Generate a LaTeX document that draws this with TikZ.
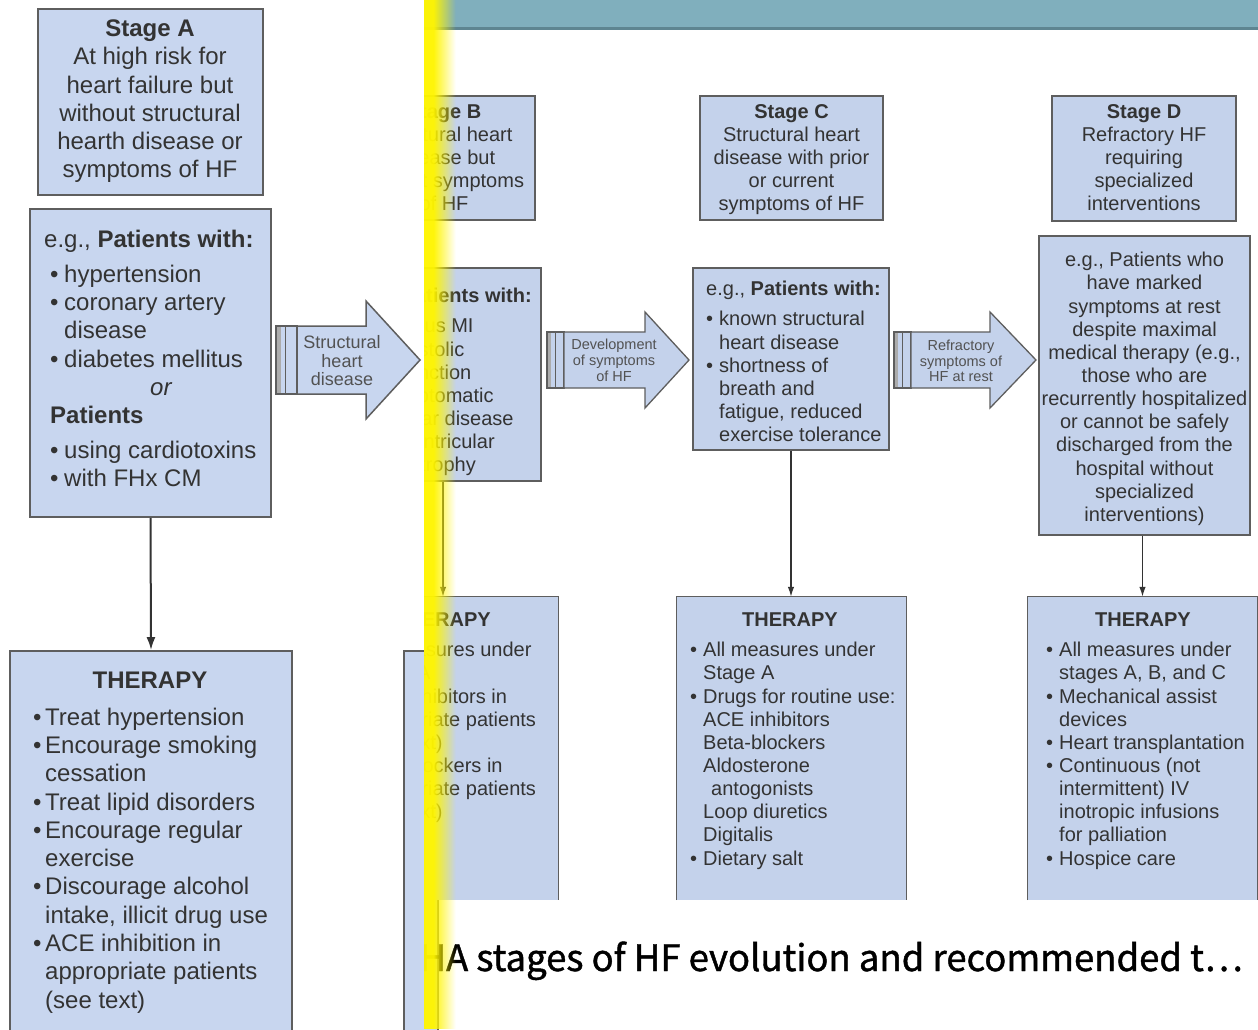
\documentclass[tikz,border=0pt]{standalone}
\usepackage{fontspec}
\setmainfont{Liberation Sans}
\newfontfamily\capfont{Noto Sans CJK SC}[FakeBold=1.2]
\usetikzlibrary{arrows.meta}
\definecolor{boxfill}{HTML}{C8D6EF}
\definecolor{boxfillS}{HTML}{C4D2EB}
\definecolor{boxline}{HTML}{5E5E5E}
\definecolor{txt}{HTML}{333333}
\definecolor{barcol}{HTML}{80AFBD}
\definecolor{bardark}{HTML}{5E8591}
\definecolor{hl}{HTML}{FFF500}
\newcommand{\blz}{\makebox[14pt][l]{•}}
\newcommand{\blt}{\makebox[12pt][l]{•}}
\newcommand{\bls}{\makebox[13pt][l]{•}}
\begin{document}
\begin{tikzpicture}[x=1pt,y=-1pt,
  zbox/.style={draw=boxline, line width=1.8pt, fill=boxfill, inner sep=0pt},
  sbox/.style={draw=boxline, line width=1.3pt, fill=boxfillS, inner sep=0pt},
  sfill/.style={fill=boxfillS, inner sep=0pt},
  openline/.style={draw=boxline, line width=1.3pt},
  ztext/.style={text=txt, inner sep=0pt, font=\fontsize{24}{28.3}\selectfont},
  stext/.style={text=txt, inner sep=0pt, font=\fontsize{20}{23.15}\selectfont},
  zarr/.style={draw=txt, line width=2pt, -{Latex[length=13pt,width=9pt]}},
  sarr/.style={draw=txt, line width=1.4pt, -{Latex[length=10pt,width=6.5pt]}},
  bigarr/.style={draw=boxline, line width=1.3pt, line join=miter},
]
\useasboundingbox (0,0) rectangle (1258,1029);
\fill[white] (0,0) rectangle (1258,1029);

% ---------- zoomed Stage A column ----------
\node[zbox, minimum width=225pt, minimum height=186pt] (sA) at (150.5,102) {};
\node[ztext, align=center, anchor=north] (tA) at (150,19.5)
  {\textbf{Stage A}\\At high risk for\\heart failure but\\without structural\\hearth disease or\\symptoms of HF};

\node[zbox, minimum width=241pt, minimum height=308pt] (pA) at (150.5,363) {};
\node[ztext, align=left, anchor=north west] (tpA) at (44,229.5)
  {e.g., \textbf{Patients with:}\\[6.7pt]
   \hspace*{6pt}\blz hypertension\\
   \hspace*{6pt}\blz coronary artery\\
   \hspace*{20pt}disease\\
   \hspace*{6pt}\blz diabetes mellitus\\
   \hspace*{106pt}\textit{or}\\
   \hspace*{6pt}\textbf{Patients}\\[6.5pt]
   \hspace*{6pt}\blz using cardiotoxins\\
   \hspace*{6pt}\blz with FHx CM};

\node[zbox, minimum width=282pt, minimum height=394pt] (thA) at (151,848) {};
\node[ztext, font=\fontsize{24}{28.3}\selectfont\bfseries] (ttA) at (150,680) {THERAPY};
\node[ztext, align=left, anchor=north west] (ltA) at (33,707.5)
  {\blt Treat hypertension\\
   \blt Encourage smoking\\
   \hspace*{12pt}cessation\\
   \blt Treat lipid disorders\\
   \blt Encourage regular\\
   \hspace*{12pt}exercise\\
   \blt Discourage alcohol\\
   \hspace*{12pt}intake, illicit drug use\\
   \blt ACE inhibition in\\
   \hspace*{12pt}appropriate patients\\
   \hspace*{12pt}(see text)};

\draw[zarr] (pA.south) -- (thA.north);

% zoomed big arrow
\fill[boxfill] (276,326) rectangle (297,394);
\fill[gray!65] (276,326) rectangle (280.5,394);
\draw[boxline, line width=1.3pt] (276,326) rectangle (297,394);
\draw[boxline, line width=1pt] (285.5,326) -- (285.5,394);
\draw[bigarr, line width=1.5pt, fill=boxfill] (297,326) -- (366,326) -- (366,301) -- (420,360) -- (366,419) -- (366,394) -- (297,394) -- cycle;
\node[text=txt!85!white, inner sep=0pt, align=center, font=\fontsize{18}{18.5}\selectfont] (lAB) at (342,361) {Structural\\heart\\disease};

% piece of the slide's Stage A therapy box
\node[sbox, fill=boxfill, minimum width=34pt, minimum height=394pt] (pc) at (421,848) {};

% ---------- slide part ----------
\begin{scope}
\clip (424,0) rectangle (1258,1029);
\fill[barcol] (424,0) rectangle (1258,27);
\fill[bardark] (424,27) rectangle (1258,30);

% headers
\node[sbox, minimum width=182pt, minimum height=124pt] (sB) at (444,158) {};
\node[stext, align=center, anchor=north] (tB) at (444,104)
  {\textbf{Stage B}\\Structural heart\\disease but\\without symptoms\\of HF};
\node[sbox, minimum width=183pt, minimum height=124pt] (sC) at (791.5,158) {};
\node[stext, align=center, anchor=north] (tC) at (791.5,104)
  {\textbf{Stage C}\\Structural heart\\disease with prior\\or current\\symptoms of HF};
\node[sbox, minimum width=184pt, minimum height=125pt] (sD) at (1144,158.5) {};
\node[stext, align=center, anchor=north] (tD) at (1144,104)
  {\textbf{Stage D}\\Refractory HF\\requiring\\specialized\\interventions};

% patients boxes
\node[sbox, minimum width=196pt, minimum height=213pt] (pB) at (443,374.5) {};
\node[stext, align=left, anchor=north west] (tpB) at (357,288)
  {e.g., \textbf{Patients with:}\\[7pt]
   \bls previous MI\\
   \bls LV systolic\\
   \hspace*{13pt}dysfunction\\
   \bls asymptomatic\\
   \hspace*{13pt}valvular disease\\
   \bls left ventricular\\
   \hspace*{13pt}hypertrophy};
\node[sbox, minimum width=196pt, minimum height=182pt] (pC) at (791,359) {};
\node[stext, align=left, anchor=north west] (tpC) at (706,281)
  {e.g., \textbf{Patients with:}\\[7pt]
   \bls known structural\\
   \hspace*{13pt}heart disease\\
   \bls shortness of\\
   \hspace*{13pt}breath and\\
   \hspace*{13pt}fatigue, reduced\\
   \hspace*{13pt}exercise tolerance};
\node[sbox, minimum width=211pt, minimum height=299pt] (pD) at (1144.5,385.5) {};
\node[stext, align=center, anchor=north] (tpD) at (1144.5,252)
  {e.g., Patients who\\have marked\\symptoms at rest\\despite maximal\\medical therapy (e.g.,\\those who are\\recurrently hospitalized\\or cannot be safely\\discharged from the\\hospital without\\specialized\\interventions)};

% therapy boxes (open at the bottom)
\node[sfill, minimum width=229pt, minimum height=303pt] (thB) at (443.5,748.5) {};
\draw[openline] (thB.south west) -- (thB.north west) -- (thB.north east) -- (thB.south east);
\node[stext, font=\fontsize{20}{23.15}\selectfont\bfseries] (ttB) at (443,620) {THERAPY};
\node[stext, align=left, anchor=north west] (ltB) at (346,642)
  {\bls All measures under\\
   \hspace*{13pt}Stage A\\
   \bls ACE inhibitors in\\
   \hspace*{13pt}appropriate patients\\
   \hspace*{13pt}(see text)\\
   \bls Beta-blockers in\\
   \hspace*{13pt}appropriate patients\\
   \hspace*{13pt}(see text)};

\node[sfill, minimum width=229pt, minimum height=303pt] (thC) at (791.5,748.5) {};
\draw[openline] (thC.south west) -- (thC.north west) -- (thC.north east) -- (thC.south east);
\node[stext, font=\fontsize{20}{23.15}\selectfont\bfseries] (ttC) at (790,620) {THERAPY};
\node[stext, align=left, anchor=north west] (ltC) at (690,642)
  {\bls All measures under\\
   \hspace*{13pt}Stage A\\
   \bls Drugs for routine use:\\
   \hspace*{13pt}ACE inhibitors\\
   \hspace*{13pt}Beta-blockers\\
   \hspace*{13pt}Aldosterone\\
   \hspace*{21pt}antogonists\\
   \hspace*{13pt}Loop diuretics\\
   \hspace*{13pt}Digitalis\\
   \bls Dietary salt};

\node[sfill, minimum width=229pt, minimum height=303pt] (thD) at (1142.5,748.5) {};
\draw[openline] (thD.south west) -- (thD.north west) -- (thD.north east) -- (thD.south east);
\node[stext, font=\fontsize{20}{23.15}\selectfont\bfseries] (ttD) at (1143,620) {THERAPY};
\node[stext, align=left, anchor=north west] (ltD) at (1046,642)
  {\bls All measures under\\
   \hspace*{13pt}stages A, B, and C\\
   \bls Mechanical assist\\
   \hspace*{13pt}devices\\
   \bls Heart transplantation\\
   \bls Continuous (not\\
   \hspace*{13pt}intermittent) IV\\
   \hspace*{13pt}inotropic infusions\\
   \hspace*{13pt}for palliation\\
   \bls Hospice care};

% vertical arrows
\draw[sarr] (pB.south) -- (pB.south |- thB.north);
\draw[sarr] (pC.south) -- (pC.south |- thC.north);
\draw[sarr] ([xshift=-2pt]pD.south) -- ([xshift=-2pt]pD.south |- thD.north);

% slide big arrows
\fill[boxfillS] (547,332) rectangle (564,388);
\fill[gray!65] (547,332) rectangle (550.5,388);
\draw[boxline, line width=1.1pt] (547,332) rectangle (564,388);
\draw[boxline, line width=0.9pt] (555,332) -- (555,388);
\draw[bigarr, fill=boxfillS] (564,332) -- (645,332) -- (645,312) -- (689,360) -- (645,408) -- (645,388) -- (564,388) -- cycle;
\node[text=txt!85!white, inner sep=0pt, align=center, font=\fontsize{14.5}{16}\selectfont] (lBC) at (614,360) {Development\\of symptoms\\of HF};

\fill[boxfillS] (894,332) rectangle (911,388);
\fill[gray!65] (894,332) rectangle (897.5,388);
\draw[boxline, line width=1.1pt] (894,332) rectangle (911,388);
\draw[boxline, line width=0.9pt] (902,332) -- (902,388);
\draw[bigarr, fill=boxfillS] (911,332) -- (990,332) -- (990,312) -- (1036,360) -- (990,408) -- (990,388) -- (911,388) -- cycle;
\node[text=txt!85!white, inner sep=0pt, align=center, font=\fontsize{14.5}{15.5}\selectfont] (lCD) at (961,361) {Refractory\\symptoms of\\HF at rest};

% caption
\node[anchor=base east, inner sep=0pt, text=black, font=\capfont\fontsize{36.5}{36.5}\selectfont] (cap) at (1243,971)
  {ACC/AHA stages of HF evolution and recommended t…};
\end{scope}

% yellow highlight strip
\fill[hl, opacity=0.96] (424,0) rectangle (434,1029);
\foreach \i [evaluate=\i as \op using {0.96*(1-(\i+0.5)/22)}] in {0,...,21} {
  \fill[hl, opacity=\op] ({434+\i},0) rectangle ({435+\i},1029);
}
\end{tikzpicture}
\end{document}
